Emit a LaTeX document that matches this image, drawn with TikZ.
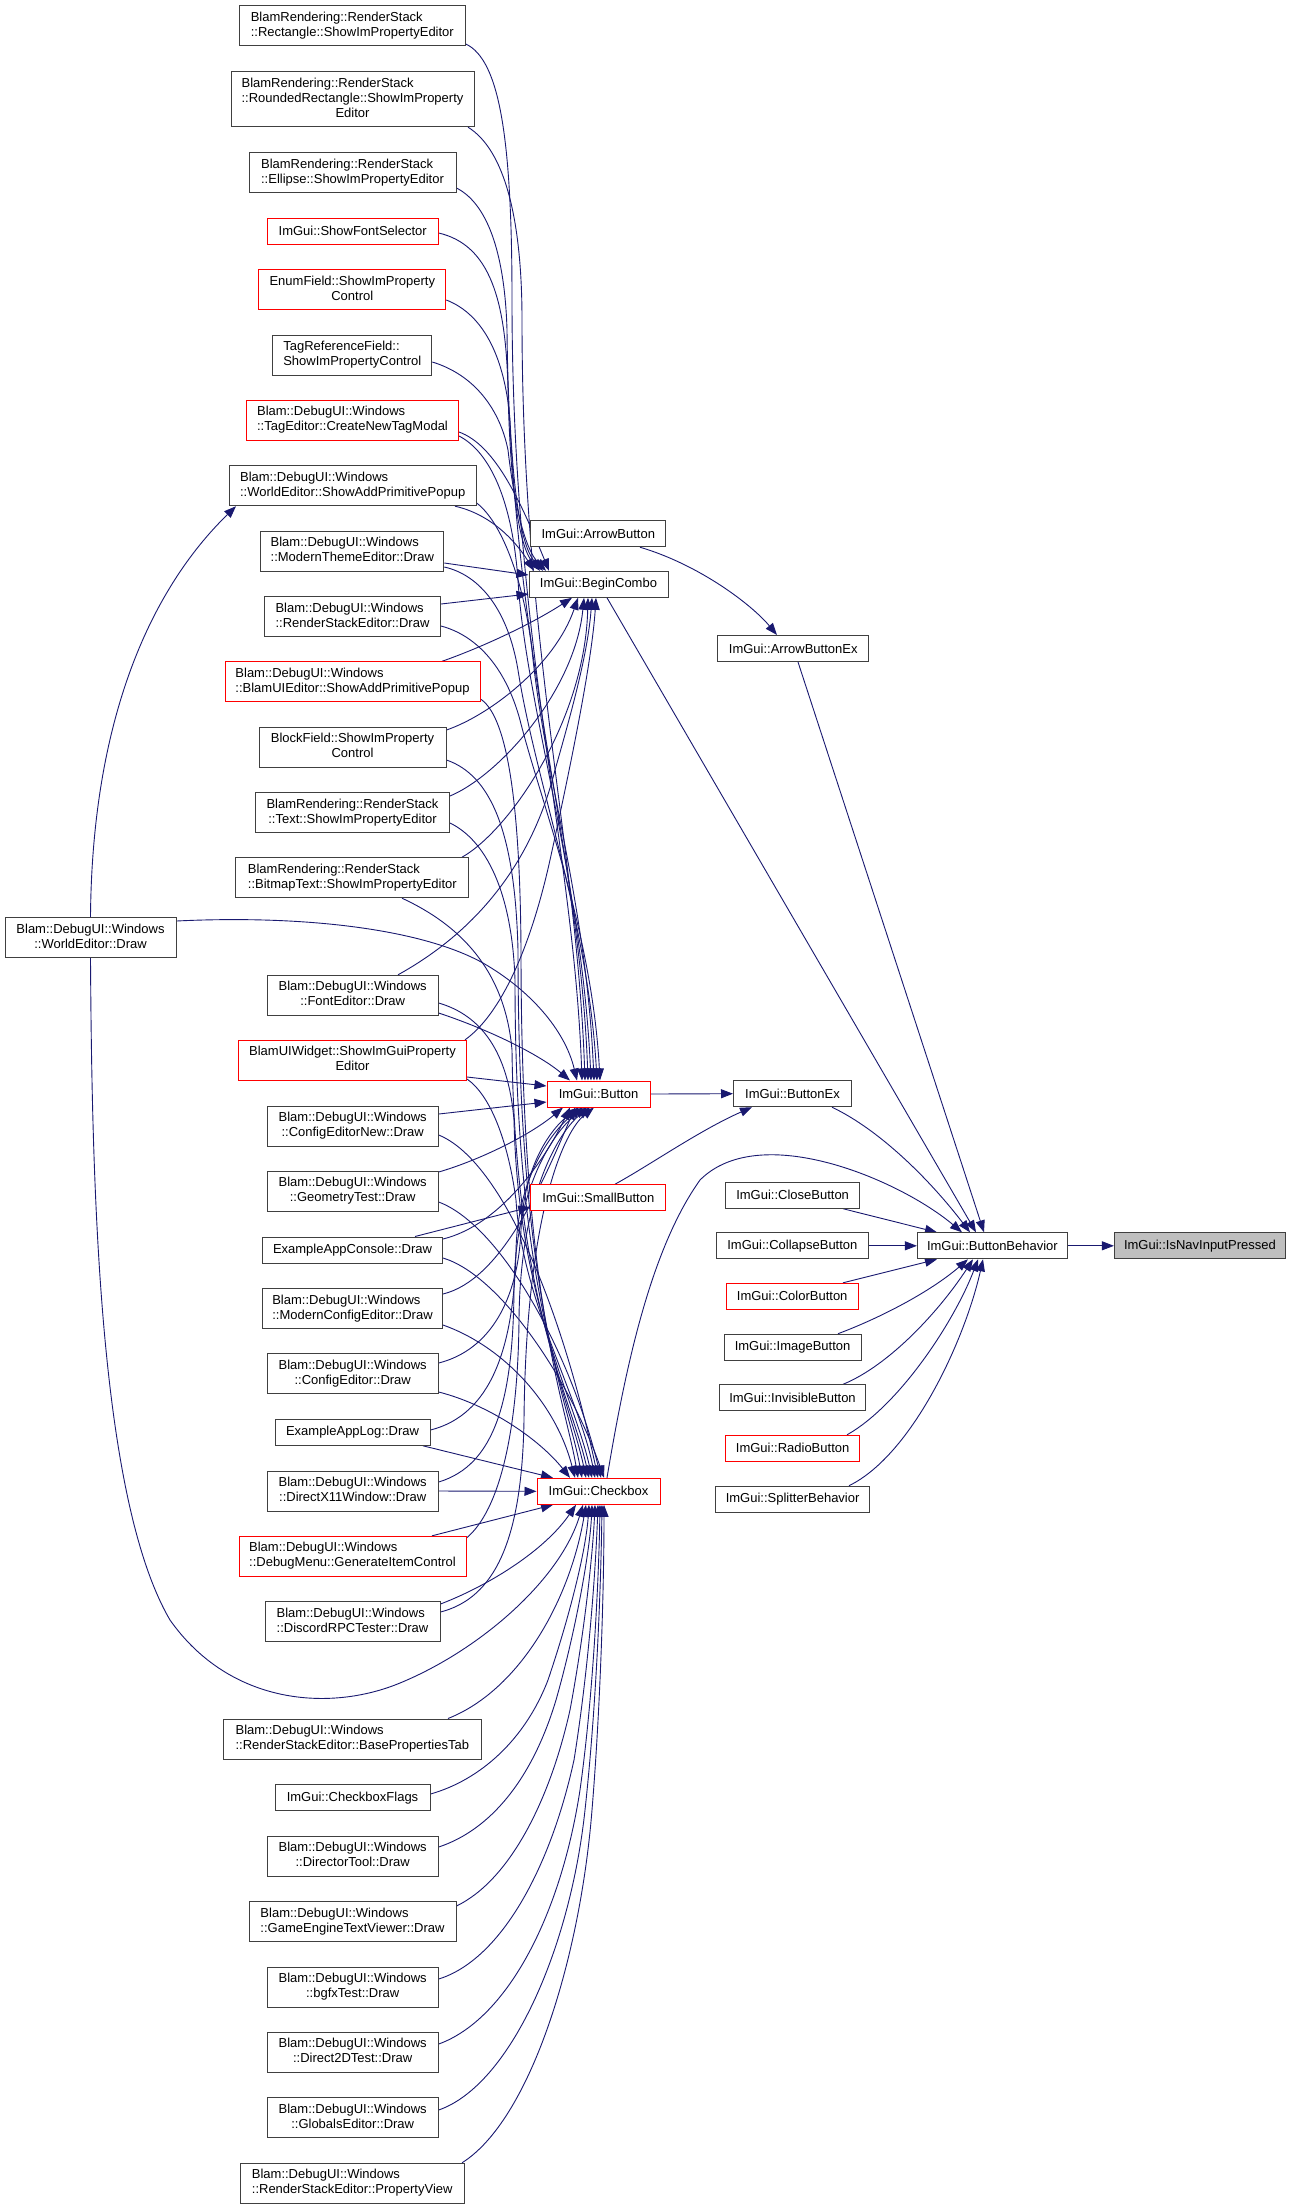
\documentclass[tikz,border=0pt]{standalone}
\usepackage{fontspec}
\setmainfont{Liberation Sans}
\usetikzlibrary{arrows.meta}
\pgfdeclarelayer{edges}
\pgfsetlayers{edges,main}
\definecolor{edgeblue}{HTML}{191970}
\definecolor{boxgray}{HTML}{404040}
\definecolor{boxred}{HTML}{FF0000}
\definecolor{rootfill}{HTML}{BFBFBF}
\newcommand\nodefont{\fontsize{13}{15}\selectfont}
\newcommand\twoL[2]{\begin{tabular}{@{}l@{}}#1\\\multicolumn{1}{@{}c@{}}{#2}\end{tabular}}
\newcommand\threeL[3]{\begin{tabular}{@{}l@{}}#1\\#2\\\multicolumn{1}{@{}c@{}}{#3}\end{tabular}}
\newcommand\bdw{Blam::DebugUI::Windows}
\tikzset{
  nb/.style={draw=boxgray, fill=white, line width=1pt, inner sep=0pt, font=\nodefont, text=black},
  nr/.style={nb, draw=boxred},
  root/.style={nb, fill=rootfill},
  e/.style={draw=edgeblue, line width=0.9pt, -{Triangle[length=12pt,width=9pt]}}
}
\begin{document}
\begin{tikzpicture}[x=1pt,y=-1pt]
\useasboundingbox (0,0) rectangle (1293,2209);
% ---------- left column ----------
\node[nb, minimum width=226pt, minimum height=40pt] (rect) at (352.3,25.9) {\twoL{BlamRendering::RenderStack}{::Rectangle::ShowImPropertyEditor}};
\node[nb, minimum width=243pt, minimum height=55pt] (rrect) at (352.5,99.2) {\threeL{BlamRendering::RenderStack}{::RoundedRectangle::ShowImProperty}{Editor}};
\node[nb, minimum width=207pt, minimum height=40pt] (ellipse) at (352.5,172.7) {\twoL{BlamRendering::RenderStack}{::Ellipse::ShowImPropertyEditor}};
\node[nr, minimum width=171pt, minimum height=26pt] (fontsel) at (352.7,231.2) {ImGui::ShowFontSelector};
\node[nr, minimum width=187pt, minimum height=40pt] (enumf) at (352.3,289.8) {\twoL{EnumField::ShowImProperty}{Control}};
\node[nb, minimum width=159pt, minimum height=40pt] (tagref) at (352.3,355.2) {\twoL{TagReferenceField::}{ShowImPropertyControl}};
\node[nr, minimum width=212pt, minimum height=40pt] (tagmodal) at (352.5,420.3) {\twoL{\bdw}{::TagEditor::CreateNewTagModal}};
\node[nb, minimum width=247pt, minimum height=40pt] (wesap) at (352.7,485.7) {\twoL{\bdw}{::WorldEditor::ShowAddPrimitivePopup}};
\node[nb, minimum width=183pt, minimum height=40pt] (mte) at (352.3,551) {\twoL{\bdw}{::ModernThemeEditor::Draw}};
\node[nb, minimum width=176pt, minimum height=40pt] (rse) at (352.5,616.7) {\twoL{\bdw}{::RenderStackEditor::Draw}};
\node[nr, minimum width=255pt, minimum height=40pt] (buesap) at (352.5,681.8) {\twoL{\bdw}{::BlamUIEditor::ShowAddPrimitivePopup}};
\node[nb, minimum width=187pt, minimum height=40pt] (blockf) at (352.5,747.3) {\twoL{BlockField::ShowImProperty}{Control}};
\node[nb, minimum width=194pt, minimum height=40pt] (text) at (352.5,812.7) {\twoL{BlamRendering::RenderStack}{::Text::ShowImPropertyEditor}};
\node[nb, minimum width=233pt, minimum height=40pt] (bitmap) at (352.3,877.7) {\twoL{BlamRendering::RenderStack}{::BitmapText::ShowImPropertyEditor}};
\node[nb, minimum width=171pt, minimum height=40pt] (fonted) at (352.7,995.3) {\twoL{\bdw}{::FontEditor::Draw}};
\node[nr, minimum width=228pt, minimum height=40pt] (widget) at (352.5,1060.3) {\twoL{BlamUIWidget::ShowImGuiProperty}{Editor}};
\node[nb, minimum width=171pt, minimum height=40pt] (cfgnew) at (352.7,1126) {\twoL{\bdw}{::ConfigEditorNew::Draw}};
\node[nb, minimum width=171pt, minimum height=40pt] (geom) at (352.7,1191.3) {\twoL{\bdw}{::GeometryTest::Draw}};
\node[nb, minimum width=180pt, minimum height=26pt] (console) at (352.5,1250) {ExampleAppConsole::Draw};
\node[nb, minimum width=180pt, minimum height=40pt] (mce) at (352.5,1308.7) {\twoL{\bdw}{::ModernConfigEditor::Draw}};
\node[nb, minimum width=171pt, minimum height=40pt] (cfged) at (352.7,1373.7) {\twoL{\bdw}{::ConfigEditor::Draw}};
\node[nb, minimum width=155pt, minimum height=26pt] (applog) at (352.5,1432.3) {ExampleAppLog::Draw};
\node[nb, minimum width=171pt, minimum height=40pt] (dx11) at (352.7,1491) {\twoL{\bdw}{::DirectX11Window::Draw}};
\node[nr, minimum width=227pt, minimum height=40pt] (debugmenu) at (352.5,1556.3) {\twoL{\bdw}{::DebugMenu::GenerateItemControl}};
\node[nb, minimum width=175pt, minimum height=40pt] (discord) at (352.5,1621.7) {\twoL{\bdw}{::DiscordRPCTester::Draw}};
\node[nb, minimum width=258pt, minimum height=40pt] (baseprop) at (352.3,1739) {\twoL{\bdw}{::RenderStackEditor::BasePropertiesTab}};
\node[nb, minimum width=155pt, minimum height=26pt] (cbflags) at (352.5,1797.7) {ImGui::CheckboxFlags};
\node[nb, minimum width=171pt, minimum height=40pt] (director) at (352.7,1856.3) {\twoL{\bdw}{::DirectorTool::Draw}};
\node[nb, minimum width=207pt, minimum height=40pt] (getv) at (352.5,1921.7) {\twoL{\bdw}{::GameEngineTextViewer::Draw}};
\node[nb, minimum width=171pt, minimum height=40pt] (bgfx) at (352.7,1987) {\twoL{\bdw}{::bgfxTest::Draw}};
\node[nb, minimum width=171pt, minimum height=40pt] (d2d) at (352.7,2052.3) {\twoL{\bdw}{::Direct2DTest::Draw}};
\node[nb, minimum width=171pt, minimum height=40pt] (globals) at (352.7,2117.7) {\twoL{\bdw}{::GlobalsEditor::Draw}};
\node[nb, minimum width=224pt, minimum height=40pt] (propview) at (352.2,2183.3) {\twoL{\bdw}{::RenderStackEditor::PropertyView}};
\node[nb, minimum width=171pt, minimum height=40pt] (wedraw) at (90.5,937.5) {\twoL{\bdw}{::WorldEditor::Draw}};
% ---------- middle column ----------
\node[nb, minimum width=135pt, minimum height=26pt] (arrowbtn) at (598.3,533.7) {ImGui::ArrowButton};
\node[nb, minimum width=139pt, minimum height=26pt] (begincombo) at (598.5,584.3) {ImGui::BeginCombo};
\node[nr, minimum width=103pt, minimum height=26pt] (button) at (598.5,1094) {ImGui::Button};
\node[nr, minimum width=135pt, minimum height=26pt] (smallbtn) at (598.3,1197.7) {ImGui::SmallButton};
\node[nr, minimum width=123pt, minimum height=26pt] (checkbox) at (598.5,1491.3) {ImGui::Checkbox};
% ---------- third column ----------
\node[nb, minimum width=151pt, minimum height=26pt] (arrowbtnex) at (793.2,648.5) {ImGui::ArrowButtonEx};
\node[nb, minimum width=118pt, minimum height=26pt] (buttonex) at (792.5,1093.7) {ImGui::ButtonEx};
\node[nb, minimum width=134pt, minimum height=26pt] (closebtn) at (792.6,1195.2) {ImGui::CloseButton};
\node[nb, minimum width=152pt, minimum height=26pt] (collapse) at (792.4,1245.8) {ImGui::CollapseButton};
\node[nr, minimum width=132pt, minimum height=26pt] (colorbtn) at (792.2,1296.3) {ImGui::ColorButton};
\node[nb, minimum width=137pt, minimum height=26pt] (imagebtn) at (792.6,1347.2) {ImGui::ImageButton};
\node[nb, minimum width=146pt, minimum height=26pt] (invisible) at (792.5,1397.8) {ImGui::InvisibleButton};
\node[nr, minimum width=134pt, minimum height=26pt] (radio) at (792.6,1448.3) {ImGui::RadioButton};
\node[nb, minimum width=154pt, minimum height=26pt] (splitter) at (792.6,1499.2) {ImGui::SplitterBehavior};
\node[nb, minimum width=150pt, minimum height=26pt] (bb) at (992.4,1245.8) {ImGui::ButtonBehavior};
\node[root, minimum width=171pt, minimum height=26pt] (isnav) at (1199.9,1245.8) {ImGui::IsNavInputPressed};
% ---------- edges ----------
\begin{pgfonlayer}{edges}
\fill[white] (0,0) rectangle (1293,2209);
% into BeginCombo
\draw[e] (fontsel.east |- 0,233) .. controls (490,245) and (506,300) .. (508,390) .. controls (510,480) and (518,545) .. (begincombo.north -| 540,0);
\draw[e] (enumf.east |- 0,300) .. controls (485,315) and (505,360) .. (510,420) .. controls (514,500) and (522,548) .. (begincombo.north -| 543,0);
\draw[e] (tagref.east |- 0,362) .. controls (475,375) and (500,410) .. (508,450) .. controls (515,510) and (526,550) .. (begincombo.north -| 546,0);
\draw[e] (tagmodal.east |- 0,432) .. controls (495,445) and (520,500) .. (begincombo.north -| 549,0);
\draw[e] (wesap.south -| 455,0) .. controls (490,514) and (515,540) .. (begincombo.north -| 534,0);
\draw[e] (mte.east |- 0,563) -- (begincombo.west |- 0,575);
\draw[e] (rse.east |- 0,604) -- (begincombo.west |- 0,594);
\draw[e] (buesap.north -| 442,0) .. controls (480,648) and (530,625) .. (begincombo.south -| 572,0);
\draw[e] (blockf.east |- 0,730) .. controls (490,715) and (555,665) .. (begincombo.south -| 578,0);
\draw[e] (text.east |- 0,796) .. controls (500,775) and (575,690) .. (begincombo.south -| 584,0);
\draw[e] (bitmap.north -| 462,0) .. controls (510,830) and (585,720) .. (begincombo.south -| 588,0);
\draw[e] (fonted.north -| 398,0) .. controls (470,935) and (530,870) .. (555,770) .. controls (575,700) and (588,650) .. (begincombo.south -| 592,0);
\draw[e] (widget.north -| 465,0) .. controls (500,1015) and (530,950) .. (550,860) .. controls (572,760) and (592,660) .. (begincombo.south -| 596,0);
% into Button
\draw[e] (rect.east |- 0,44) .. controls (500,60) and (512,140) .. (512,300) .. controls (512,640) and (574,850) .. (button.north -| 582,0);
\draw[e] (rrect.south -| 468,0) .. controls (505,150) and (522,220) .. (522,320) .. controls (522,640) and (577,850) .. (button.north -| 585,0);
\draw[e] (ellipse.east |- 0,188) .. controls (490,205) and (505,260) .. (507,330) .. controls (510,650) and (580,850) .. (button.north -| 588,0);
\draw[e] (tagmodal.east |- 0,436) .. controls (490,452) and (512,500) .. (518,580) .. controls (525,700) and (582,880) .. (button.north -| 591,0);
\draw[e] (wesap.east |- 0,503) .. controls (505,525) and (525,590) .. (532,650) .. controls (545,780) and (586,900) .. (button.north -| 594,0);
\draw[e] (mte.east |- 0,567) .. controls (480,575) and (508,610) .. (518,670) .. controls (535,780) and (588,920) .. (button.north -| 597,0);
\draw[e] (rse.east |- 0,626) .. controls (475,635) and (505,665) .. (520,720) .. controls (540,800) and (592,930) .. (button.north -| 600,0);
\draw[e] (wedraw.east |- 0,921) .. controls (300,915) and (420,928) .. (483,963) .. controls (530,990) and (565,1030) .. (button.north -| 577,0);
\draw[e] (fonted.east |- 0,1013) .. controls (490,1030) and (540,1055) .. (button.north -| 570,0);
\draw[e] (widget.east |- 0,1077) -- (button.west |- 0,1086);
\draw[e] (cfgnew.east |- 0,1114) -- (button.west |- 0,1102);
\draw[e] (geom.east |- 0,1172) .. controls (480,1160) and (530,1135) .. (button.south -| 563,0);
\draw[e] (console.east |- 0,1239) .. controls (500,1225) and (545,1160) .. (button.south -| 570,0);
\draw[e] (console.north -| 415,0) -- (smallbtn.west |- 0,1207);
\draw[e] (mce.east |- 0,1294) .. controls (500,1280) and (540,1190) .. (button.south -| 575,0);
\draw[e] (cfged.east |- 0,1363) .. controls (490,1350) and (518,1300) .. (521,1230) .. controls (524,1160) and (555,1125) .. (button.south -| 579,0);
\draw[e] (applog.east |- 0,1430) .. controls (490,1415) and (514,1350) .. (516,1250) .. controls (518,1170) and (558,1125) .. (button.south -| 583,0);
\draw[e] (dx11.east |- 0,1482) .. controls (495,1465) and (513,1400) .. (514,1290) .. controls (515,1180) and (560,1125) .. (button.south -| 587,0);
\draw[e] (debugmenu.east |- 0,1538) .. controls (500,1510) and (518,1430) .. (519,1320) .. controls (520,1190) and (562,1128) .. (button.south -| 590,0);
\draw[e] (discord.east |- 0,1612) .. controls (495,1598) and (522,1540) .. (524,1420) .. controls (526,1210) and (565,1130) .. (button.south -| 594,0);
% into Checkbox from above
\draw[e] (buesap.east |- 0,699) .. controls (505,715) and (520,790) .. (521,950) .. controls (521,1300) and (565,1400) .. (checkbox.north -| 578,0);
\draw[e] (blockf.east |- 0,760) .. controls (490,775) and (515,830) .. (518,950) .. controls (518,1300) and (568,1400) .. (checkbox.north -| 582,0);
\draw[e] (text.east |- 0,823) .. controls (485,840) and (512,890) .. (515,980) .. controls (515,1300) and (570,1400) .. (checkbox.north -| 586,0);
\draw[e] (bitmap.south -| 402,0) .. controls (460,925) and (505,970) .. (512,1050) .. controls (515,1300) and (572,1400) .. (checkbox.north -| 589,0);
\draw[e] (fonted.east |- 0,1003) .. controls (480,1015) and (508,1050) .. (514,1120) .. controls (518,1300) and (575,1400) .. (checkbox.north -| 592,0);
\draw[e] (widget.east |- 0,1079) .. controls (490,1095) and (508,1140) .. (516,1200) .. controls (522,1300) and (580,1400) .. (checkbox.north -| 595,0);
\draw[e] (cfgnew.east |- 0,1135) .. controls (500,1160) and (560,1300) .. (checkbox.north -| 598,0);
\draw[e] (geom.east |- 0,1202) .. controls (500,1225) and (570,1350) .. (checkbox.north -| 601,0);
\draw[e] (console.east |- 0,1258) .. controls (500,1275) and (570,1380) .. (checkbox.north -| 604,0);
\draw[e] (mce.east |- 0,1325) .. controls (500,1345) and (555,1400) .. (checkbox.north -| 575,0);
\draw[e] (cfged.east |- 0,1392) .. controls (490,1405) and (540,1440) .. (checkbox.north -| 570,0);
\draw[e] (applog.south -| 423,0) -- (checkbox.north -| 553,0);
\draw[e] (dx11.east) -- (checkbox.west);
\draw[e] (debugmenu.north -| 432,0) -- (checkbox.south -| 553,0);
\draw[e] (discord.east |- 0,1604) .. controls (490,1585) and (545,1550) .. (checkbox.south -| 576,0);
% WorldEditor::Draw
\draw[e] (wedraw.north) .. controls (92,720) and (150,590) .. (wesap.south -| 236,0);
\draw[e] (wedraw.south) .. controls (92,1200) and (100,1500) .. (170,1620) .. controls (230,1705) and (330,1712) .. (400,1683) .. controls (480,1650) and (560,1580) .. (checkbox.south -| 583,0);
% into Checkbox from below
\draw[e] (baseprop.north -| 448,0) .. controls (520,1690) and (570,1600) .. (checkbox.south -| 586,0);
\draw[e] (cbflags.east |- 0,1794) .. controls (480,1780) and (525,1740) .. (548,1680) .. controls (570,1615) and (586,1550) .. (checkbox.south -| 589,0);
\draw[e] (director.east |- 0,1847) .. controls (490,1830) and (532,1780) .. (556,1700) .. controls (576,1630) and (590,1550) .. (checkbox.south -| 592,0);
\draw[e] (getv.east |- 0,1906) .. controls (510,1880) and (550,1800) .. (570,1710) .. controls (585,1630) and (593,1550) .. (checkbox.south -| 595,0);
\draw[e] (bgfx.east |- 0,1979) .. controls (500,1960) and (550,1870) .. (574,1760) .. controls (590,1660) and (596,1560) .. (checkbox.south -| 598,0);
\draw[e] (d2d.east |- 0,2044) .. controls (505,2020) and (560,1920) .. (580,1790) .. controls (594,1690) and (599,1570) .. (checkbox.south -| 600,0);
\draw[e] (globals.east |- 0,2110) .. controls (510,2085) and (570,1950) .. (585,1810) .. controls (597,1700) and (601,1580) .. (checkbox.south -| 602,0);
\draw[e] (propview.north -| 462,0) .. controls (530,2120) and (580,1960) .. (592,1810) .. controls (601,1700) and (604,1580) .. (checkbox.south -| 604,0);
% right part
\draw[e] (arrowbtn.south -| 640,0) .. controls (700,565) and (752,605) .. (arrowbtnex.north -| 777,0);
\draw[e] (begincombo.south -| 607,0) -- (bb.north -| 976,0);
\draw[e] (arrowbtnex.south -| 798,0) -- (bb.north -| 984,0);
\draw[e] (button.east) -- (buttonex.west);
\draw[e] (smallbtn.north -| 615,0) .. controls (650,1165) and (700,1130) .. (buttonex.south -| 752,0);
\draw[e] (buttonex.south -| 832,0) .. controls (880,1130) and (930,1180) .. (bb.north -| 970,0);
\draw[e] (checkbox.north -| 607,0) .. controls (625,1370) and (650,1250) .. (700,1180) .. controls (760,1120) and (900,1180) .. (bb.north -| 962,0);
\draw[e] (closebtn.south -| 843,0) -- (bb.north -| 937,0);
\draw[e] (collapse.east) -- (bb.west);
\draw[e] (colorbtn.north -| 843,0) -- (bb.south -| 937,0);
\draw[e] (imagebtn.north -| 838,0) .. controls (880,1318) and (930,1292) .. (bb.south -| 968,0);
\draw[e] (invisible.north -| 843,0) .. controls (890,1365) and (940,1310) .. (bb.south -| 973,0);
\draw[e] (radio.north -| 847,0) .. controls (900,1405) and (955,1320) .. (bb.south -| 978,0);
\draw[e] (splitter.north -| 849,0) .. controls (912,1455) and (965,1340) .. (bb.south -| 983,0);
\draw[e] (bb.east) -- (isnav.west);
\end{pgfonlayer}
\end{tikzpicture}
\end{document}
